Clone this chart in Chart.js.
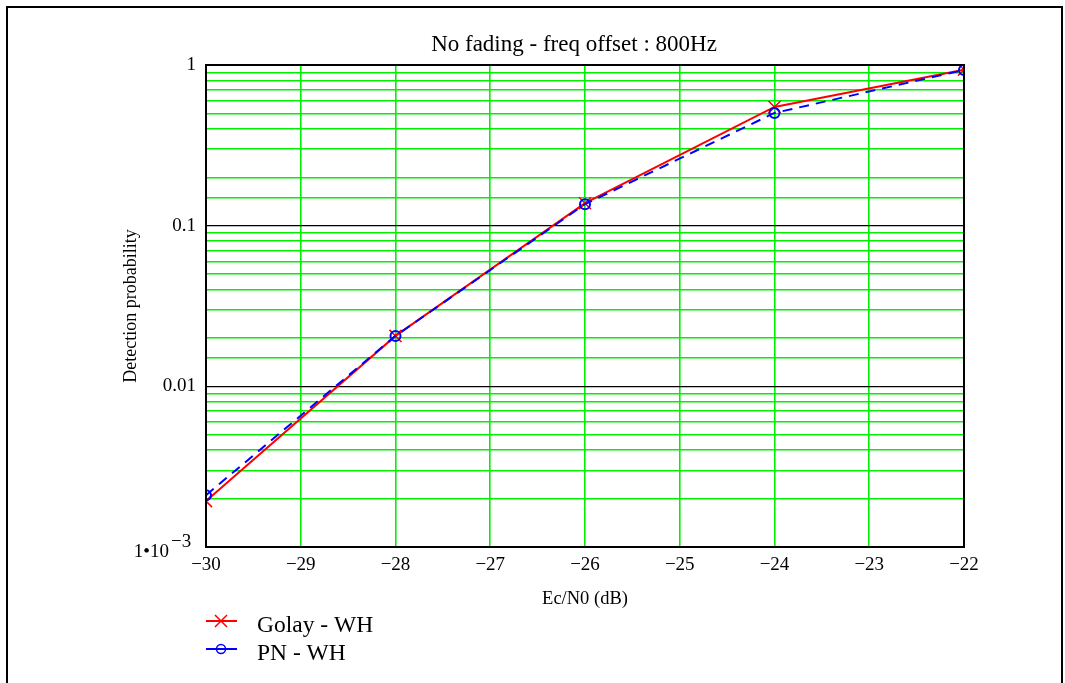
<!DOCTYPE html>
<html>
<head>
<meta charset="utf-8">
<script src="https://cdn.jsdelivr.net/npm/chart.js@4"></script>
<style>
  html, body { margin: 0; padding: 0; background: #fff; }
  body { width: 1065px; height: 683px; position: relative; overflow: hidden; }
  #frame { position: absolute; left: 6px; top: 6px; right: 2px; height: 700px;
           border: 2px solid #000; border-bottom: none; }
  #chart { position: absolute; left: 0; top: 0; }
</style>
</head>
<body>
<div id="frame"></div>
<canvas id="chart" width="1065" height="683"></canvas>
<script>
// ── Données ─────────────────────────────────────────────
const ebno   = [-30, -28, -26, -24, -22];
const golay  = [0.00193, 0.0206, 0.138, 0.548, 0.935];
const pn     = [0.00210, 0.0206, 0.136, 0.503, 0.930];
const xTicks = [-30, -29, -28, -27, -26, -25, -24, -23, -22];
const yLabels = { 1: '1', 0.1: '0.1', 0.01: '0.01' };
const TITLE  = 'No fading - freq offset : 800Hz';
const SERIES = ['Golay - WH', 'PN - WH'];

const SERIF = '"Liberation Serif", "DejaVu Serif", serif';
const GREEN = '#00f000';

const isDecade = v => Math.abs(Math.log10(v) - Math.round(Math.log10(v))) < 1e-9;
const toPts = ys => ebno.map((x, i) => ({ x, y: ys[i] }));

// titre, cadre, étiquette 1·10^-3, légende
const extras = {
  id: 'extras',
  afterDraw(chart) {
    const { ctx, chartArea: a, scales } = chart;
    ctx.save();
    ctx.strokeStyle = '#000';
    ctx.lineWidth = 2;
    ctx.strokeRect(a.left, a.top, a.right - a.left, a.bottom - a.top);

    ctx.fillStyle = '#000';
    ctx.font = '23px ' + SERIF;
    ctx.textAlign = 'center';
    ctx.textBaseline = 'middle';
    ctx.fillText(TITLE, 574, 45);

    const yb = scales.y.getPixelForValue(0.001);
    ctx.font = '19px ' + SERIF;
    ctx.textAlign = 'right';
    ctx.textBaseline = 'alphabetic';
    ctx.fillText('1\u202210', 169, yb + 10);
    ctx.textAlign = 'left';
    ctx.fillText('\u22123', 171, yb);

    // légende
    const items = [
      { label: SERIES[0], color: 'red', style: 'x', y: 621 },
      { label: SERIES[1], color: 'blue', style: 'o', y: 649 }
    ];
    items.forEach(it => {
      ctx.strokeStyle = it.color;
      ctx.lineWidth = 2;
      ctx.beginPath();
      ctx.moveTo(206, it.y);
      ctx.lineTo(237, it.y);
      ctx.stroke();
      ctx.lineWidth = 1.5;
      ctx.beginPath();
      if (it.style === 'x') {
        ctx.moveTo(215, it.y - 6); ctx.lineTo(227, it.y + 6);
        ctx.moveTo(227, it.y - 6); ctx.lineTo(215, it.y + 6);
      } else {
        ctx.arc(221, it.y, 4.5, 0, Math.PI * 2);
      }
      ctx.stroke();
      ctx.fillStyle = '#000';
      ctx.font = '23.5px ' + SERIF;
      ctx.textAlign = 'left';
      ctx.textBaseline = 'middle';
      ctx.fillText(it.label, 257, it.y + 5);
    });
    ctx.restore();
  }
};

new Chart(document.getElementById('chart'), {
  type: 'line',
  data: {
    datasets: [
      {
        label: SERIES[0],
        data: toPts(golay),
        borderColor: 'red',
        borderWidth: 2,
        pointStyle: 'crossRot',
        pointRadius: 8.5,
        pointBorderWidth: 1.5,
        pointBorderColor: 'red',
        tension: 0,
        order: 1
      },
      {
        label: SERIES[1],
        data: toPts(pn),
        borderColor: 'blue',
        borderWidth: 2,
        borderDash: [10, 7],
        pointStyle: 'circle',
        pointRadius: 5,
        pointBorderWidth: 2,
        pointBorderColor: 'blue',
        pointBackgroundColor: 'rgba(0,0,0,0)',
        tension: 0,
        order: 0
      }
    ]
  },
  options: {
    responsive: false,
    animation: false,
    devicePixelRatio: 1,
    layout: { padding: { left: 0, right: 101, top: 65, bottom: 66 } },
    plugins: {
      legend: { display: false },
      tooltip: { enabled: false },
      title: { display: false }
    },
    scales: {
      x: {
        type: 'linear',
        min: -30,
        max: -22,
        afterBuildTicks: s => { s.ticks = xTicks.map(v => ({ value: v })); },
        afterFit: s => { s.height = 70; },
        ticks: {
          color: '#000',
          padding: 7,
          maxRotation: 0,
          autoSkip: false,
          font: { family: SERIF, size: 19 },
          callback: v => String(v).replace('-', '\u2212')
        },
        grid: { color: GREEN, lineWidth: 1.6, drawTicks: false },
        border: { color: '#000', width: 2 },
        title: {
          display: true,
          text: 'Ec/N0 (dB)',
          color: '#000',
          font: { family: SERIF, size: 18.5 },
          padding: { top: 0, bottom: 7 }
        }
      },
      y: {
        type: 'logarithmic',
        min: 0.001,
        max: 1,
        afterFit: s => { s.width = 206; },
        ticks: {
          color: '#000',
          padding: 10,
          autoSkip: false,
          font: { family: SERIF, size: 19 },
          callback: v => (isDecade(v) && yLabels[v]) ? yLabels[v] : ''
        },
        grid: {
          color: c => (c.tick && isDecade(c.tick.value)) ? '#000' : GREEN,
          lineWidth: c => (c.tick && isDecade(c.tick.value)) ? 1.2 : 1.6,
          drawTicks: false
        },
        border: { color: '#000', width: 2 },
        title: {
          display: true,
          text: 'Detection probability',
          color: '#000',
          font: { family: SERIF, size: 18 },
          padding: { top: 120, bottom: 0 }
        }
      }
    }
  },
  plugins: [extras]
});
</script>
</body>
</html>
